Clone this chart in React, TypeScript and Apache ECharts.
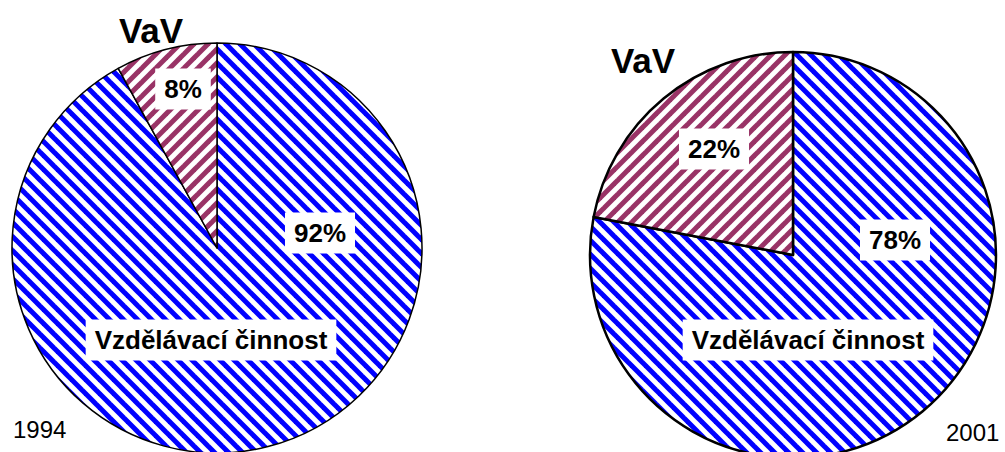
import React, { useEffect, useRef } from "react";
import * as echarts from "echarts";

const categories = ["Vzdělávací činnost", "VaV"];
const values1994 = [92, 8];
const values2001 = [78, 22];
const years = ["1994", "2001"];

function stripeTile(color: string, dir: "down" | "up", P = 13, w = 4.6) {
  const c = document.createElement("canvas");
  c.width = P;
  c.height = P;
  const ctx = c.getContext("2d")!;
  ctx.fillStyle = "#ffffff";
  ctx.fillRect(0, 0, P, P);
  ctx.strokeStyle = color;
  ctx.lineWidth = w;
  for (let k = -2; k <= 2; k++) {
    ctx.beginPath();
    if (dir === "down") {
      ctx.moveTo(k * P - P, -P);
      ctx.lineTo(k * P + 2 * P, 2 * P);
    } else {
      ctx.moveTo(k * P - P, 2 * P);
      ctx.lineTo(k * P + 2 * P, -P);
    }
    ctx.stroke();
  }
  return c;
}

const pct = (vals: number[], i: number) =>
  Math.round((vals[i] / vals.reduce((a, b) => a + b, 0)) * 100) + "%";

export default function App() {
  const ref = useRef<HTMLDivElement>(null);
  useEffect(() => {
    if (!ref.current) return;
    const chart = echarts.init(ref.current, null, { renderer: "svg" });
    const blue = { image: stripeTile("#0000ff", "down", 14, 5), repeat: "repeat" };
    const plum = { image: stripeTile("#993366", "up", 14, 5), repeat: "repeat" };
    const mkData = (vals: number[]) =>
      vals.map((v, i) => ({
        name: categories[i],
        value: v,
        itemStyle: { color: (i === 0 ? blue : plum) as any },
      }));
    const boxText = (text: string, x: number, y: number) => ({
      type: "text",
      x,
      y,
      z: 100,
      silent: true,
      style: {
        text,
        font: "bold 26px 'Liberation Sans', Arial, sans-serif",
        fill: "#000",
        align: "center",
        verticalAlign: "middle",
        backgroundColor: "#ffffff",
        padding: [8, 9, 7, 9],
      },
    });
    const plainText = (
      text: string,
      x: number,
      y: number,
      font: string,
      align = "center"
    ) => ({
      type: "text",
      x,
      y,
      z: 100,
      silent: true,
      style: {
        text,
        font,
        fill: "#000",
        align,
        verticalAlign: "middle",
      },
    });
    chart.setOption({
      animation: false,
      backgroundColor: "#ffffff",
      series: [
        {
          type: "pie",
          center: [217, 248],
          radius: 205,
          startAngle: 90,
          clockwise: true,
          silent: true,
          z: 1,
          label: { show: false },
          labelLine: { show: false },
          itemStyle: { borderColor: "#000", borderWidth: 1.5 },
          emphasis: { disabled: true },
          data: mkData(values1994),
        },
        {
          type: "pie",
          center: [793, 255],
          radius: 203,
          startAngle: 90,
          clockwise: true,
          silent: true,
          z: 1,
          label: { show: false },
          labelLine: { show: false },
          itemStyle: { borderColor: "#000", borderWidth: 2.5 },
          emphasis: { disabled: true },
          data: mkData(values2001),
        },
      ],
      graphic: {
        elements: [
          boxText(pct(values1994, 1), 183, 89),
          boxText(pct(values1994, 0), 320, 233),
          boxText(categories[0], 211, 340),
          boxText(pct(values2001, 1), 714, 149),
          boxText(pct(values2001, 0), 895, 240),
          boxText(categories[0], 808, 340),
          plainText(categories[1], 151, 30, "bold 35px 'Liberation Sans', Arial, sans-serif"),
          plainText(categories[1], 643, 60, "bold 35px 'Liberation Sans', Arial, sans-serif"),
          plainText(years[0], 13, 429, "24px 'Liberation Sans', Arial, sans-serif", "left"),
          plainText(years[1], 946, 432, "24px 'Liberation Sans', Arial, sans-serif", "left"),
        ],
      },
    });
    return () => chart.dispose();
  }, []);
  return (
    <div
      ref={ref}
      style={{ position: "absolute", left: 0, top: 0, width: 1005, height: 452 }}
    />
  );
}
